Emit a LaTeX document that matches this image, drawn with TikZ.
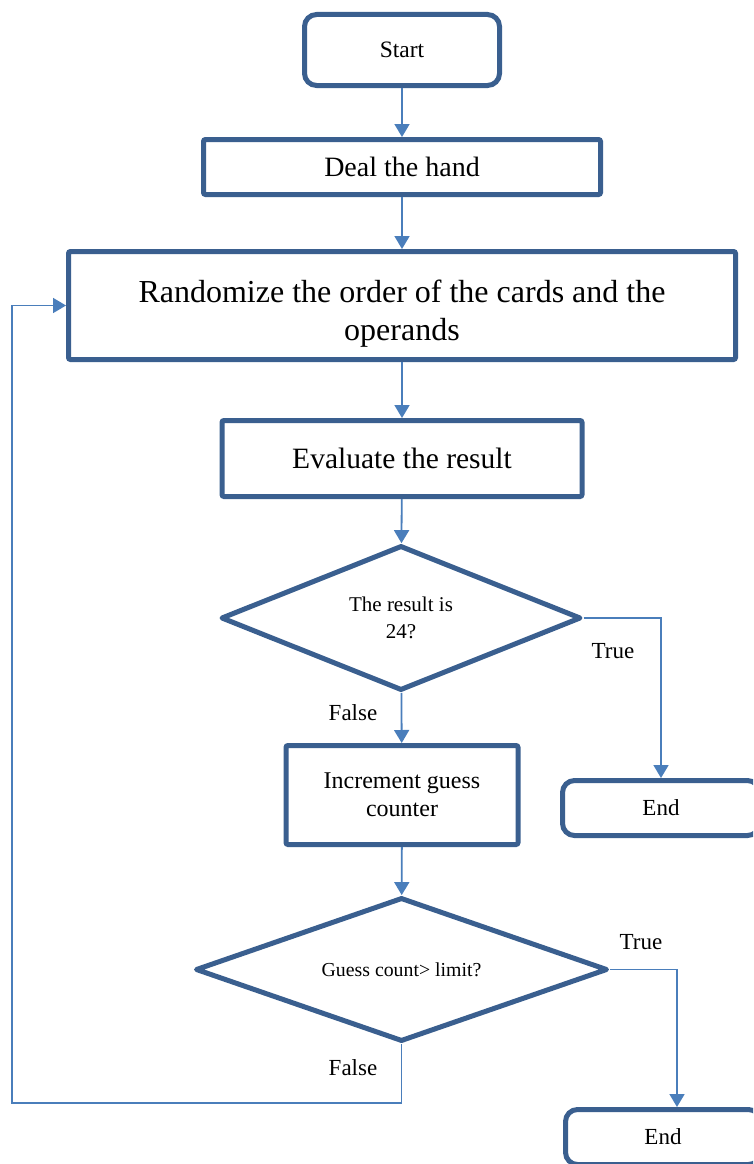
\documentclass[tikz,border=0pt]{standalone}
\usepackage{fontspec}
\setmainfont{Liberation Serif}
\usetikzlibrary{shapes.geometric,arrows.meta}
\definecolor{shapeblue}{HTML}{3A5F8F}
\definecolor{linkblue}{HTML}{4A7EBB}
\begin{document}
\begin{tikzpicture}[x=1pt,y=-1pt,
  box/.style={draw=shapeblue, line width=5pt, fill=white, inner sep=0pt, align=center, rounded corners=2pt},
  term/.style={box, rounded corners=12pt},
  dec/.style={diamond, draw=shapeblue, line width=5pt, line join=round, fill=white, inner sep=0pt, align=center},
  link/.style={draw=linkblue, line width=1.8pt, -{Triangle[width=15pt,length=13pt]}},
  lbl/.style={inner sep=0pt, font=\fontsize{23}{27}\selectfont}]
\useasboundingbox (0,0) rectangle (753,1164);
\clip (0,0) rectangle (753,1164);
\node[term, minimum width=195pt, minimum height=71pt, font=\fontsize{23.5}{28}\selectfont] (start) at (402,50) {Start};
\node[box, minimum width=397pt, minimum height=55pt, font=\fontsize{28}{33}\selectfont] (deal) at (402,167) {Deal the hand};
\node[box, minimum width=667pt, minimum height=108pt, font=\fontsize{32}{38}\selectfont] (rand) at (402,305.5) {\rule{0pt}{38pt}Randomize the order of the cards and the\\operands};
\node[box, minimum width=360pt, minimum height=76pt, font=\fontsize{29.5}{35}\selectfont] (eval) at (402,458.5) {Evaluate the result};
\node[dec, aspect=2.48, minimum width=360pt, minimum height=145pt, font=\fontsize{21}{27}\selectfont] (d1) at (401,618) {The result is\\24?};
\node[box, minimum width=232pt, minimum height=99pt, font=\fontsize{24}{28}\selectfont] (inc) at (402,795) {Increment guess\\counter};
\node[dec, aspect=2.86, minimum width=412pt, minimum height=144pt, font=\fontsize{19.8}{24}\selectfont] (d2) at (401.5,969.5) {Guess count> limit?};
\node[term, minimum width=197pt, minimum height=55pt, font=\fontsize{23}{28}\selectfont] (end1) at (661,808) {End};
\node[term, minimum width=195pt, minimum height=55pt, font=\fontsize{23}{28}\selectfont] (end2) at (663,1137) {End};
\coordinate (e2in) at (677,1107);
\coordinate (lb) at (12,1103);
\draw[link] (start) -- (deal);
\draw[link] (deal) -- (rand);
\draw[link] (rand) -- (eval);
\draw[link] (eval) -- (d1);
\draw[link] (d1) -- (inc);
\draw[link] (inc) -- (d2);
\draw[link] (d1.east) -| (end1.north);
\draw[link] (d2.east) -| (e2in);
\draw[link] (d2.south) |- (lb) |- (rand.west);
\node[lbl] (t1) at (613,651) {True};
\node[lbl] (f1) at (353,713) {False};
\node[lbl] (t2) at (641,942) {True};
\node[lbl] (f2) at (353,1068) {False};
\end{tikzpicture}
\end{document}
